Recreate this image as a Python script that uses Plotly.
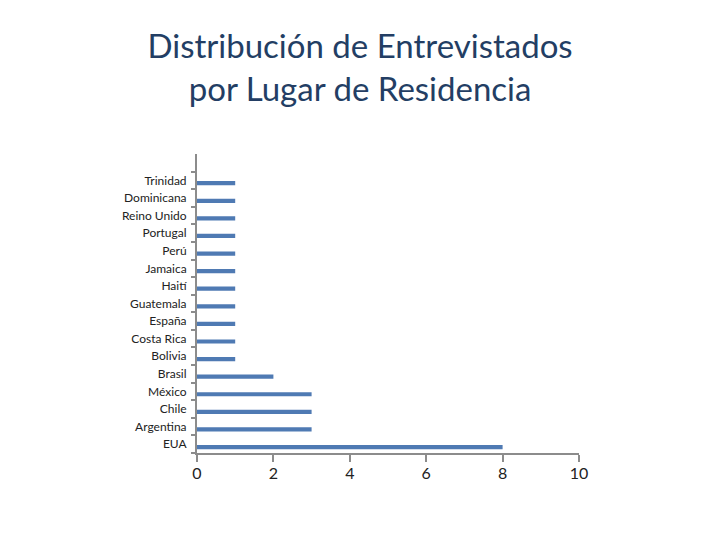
import plotly.graph_objects as go

countries = ["EUA", "Argentina", "Chile", "México", "Brasil", "Bolivia", "Costa Rica",
             "España", "Guatemala", "Haití", "Jamaica", "Perú", "Portugal", "Reino Unido",
             "Dominicana", "Trinidad"]
counts = [8, 3, 3, 3, 2, 1, 1, 1, 1, 1, 1, 1, 1, 1, 1, 1]
x_ticks = [0, 2, 4, 6, 8, 10]

fig = go.Figure(go.Bar(
    x=counts, y=countries, orientation="h",
    marker=dict(color="#4F7AB3", line=dict(width=0)),
    width=0.24, offset=-0.28,
))

font_family = "Lato, Open Sans, sans-serif"
fig.update_layout(
    width=720, height=540,
    paper_bgcolor="white", plot_bgcolor="white",
    margin=dict(l=189, r=149, t=146, b=95),
    title=dict(
        text="Distribución de Entrevistados<br>por Lugar de Residencia",
        x=0.489, xanchor="center", y=0.908, yanchor="middle",
        font=dict(family=font_family, size=33, color="#233E64"),
    ),
    showlegend=False,
    xaxis=dict(
        range=[0, 10], tickvals=x_ticks, ticktext=[str(v) for v in x_ticks],
        automargin=False,
        showgrid=False, zeroline=False, showline=True, linecolor="#8C8C8C", linewidth=2,
        ticks="outside", ticklen=7, tickcolor="#8C8C8C", tickwidth=2,
        ticklabelstandoff=-2,
        tickfont=dict(family=font_family, size=16, color="#222222"),
    ),
    yaxis=dict(
        type="category", categoryorder="array", categoryarray=countries,
        range=[-0.5, len(countries) + 0.5],
        automargin=False,
        showgrid=False, zeroline=False, showline=True, linecolor="#8C8C8C", linewidth=2,
        ticks="outside", tickson="boundaries", ticklen=4, tickcolor="#8C8C8C", tickwidth=2,
        ticklabelstandoff=6,
        tickfont=dict(family=font_family, size=12, color="#222222"),
    ),
)

fig.write_html("out.html")
